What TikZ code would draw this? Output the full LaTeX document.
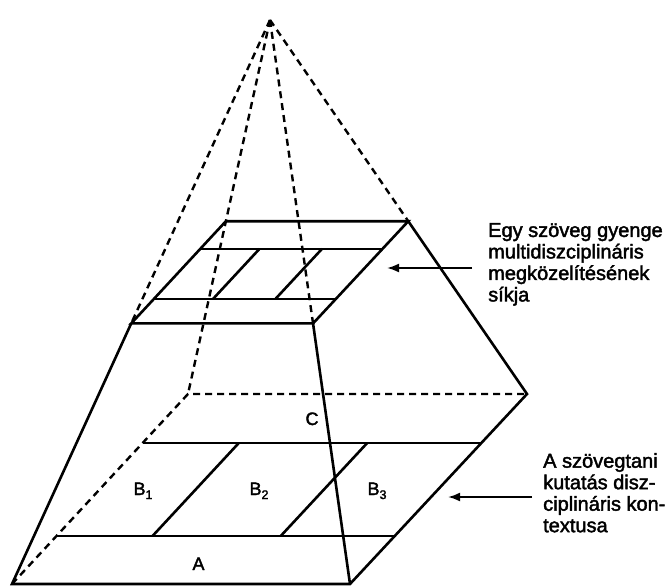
\documentclass[tikz,border=0pt]{standalone}
\usepackage{fontspec}
\setmainfont{Liberation Sans}[BoldFont=Liberation Sans, BoldFeatures={FakeBold=2}]
\usetikzlibrary{calc,arrows.meta}
\newcommand{\lowidx}[1]{\raisebox{-4pt}{\fontsize{12.5}{12.5}\selectfont #1}}

\begin{document}
\begin{tikzpicture}[x=1pt, y=-1pt,
    edge/.style={line width=2.6pt, line join=miter},
    hidden/.style={line width=2.4pt, dash pattern=on 7pt off 5pt},
    pointer/.style={line width=2pt, -{Latex[length=12pt,width=9pt]}},
    lbl/.style={font=\fontsize{18}{20}\selectfont\bfseries, inner sep=0pt, anchor=base},
    note/.style={font=\fontsize{20}{21.5}\selectfont\bfseries, align=left, inner sep=0pt, anchor=north west}]
  \useasboundingbox (0,0) rectangle (669,586);

  \coordinate (apex) at (270,20);
  \coordinate (bfl) at (12,584);
  \coordinate (bfr) at (350,584);
  \coordinate (bbr) at (527,394);
  \coordinate (bbl) at (188,394);
  \foreach \c in {fl,fr,br,bl}
    \coordinate (t\c) at ($(apex)!0.538!(b\c)$);

  % base plane strips
  \coordinate (bs1l) at ($(bfl)!0.253!(bbl)$);
  \coordinate (bs1r) at ($(bfr)!0.253!(bbr)$);
  \coordinate (bs2l) at ($(bfl)!0.742!(bbl)$);
  \coordinate (bs2r) at ($(bfr)!0.742!(bbr)$);
  % top plane strips
  \coordinate (ts1l) at ($(tfl)!0.24!(tbl)$);
  \coordinate (ts1r) at ($(tfr)!0.24!(tbr)$);
  \coordinate (ts2l) at ($(tfl)!0.73!(tbl)$);
  \coordinate (ts2r) at ($(tfr)!0.73!(tbr)$);

  \draw[hidden] (apex) -- (tfl);
  \draw[hidden] (apex) -- (tfr);
  \draw[hidden] (apex) -- (tbr);
  \draw[hidden] (apex) -- (bbl);
  \draw[hidden] (bfl) -- (bbl) -- (bbr);

  \draw[edge] (tfl) -- (tfr) -- (tbr) -- (tbl) -- cycle;
  \draw[edge] (ts1l) -- (ts1r);
  \draw[edge] (ts2l) -- (ts2r);
  \foreach \u in {0.325,0.668}
    \draw[edge] ($(ts1l)!\u!(ts1r)$) -- ($(ts2l)!\u!(ts2r)$);

  \draw[edge] (tfl) -- (bfl) -- (bfr) -- (bbr) -- (tbr);
  \draw[edge] (tfr) -- (bfr);
  \draw[edge] (bs1l) -- (bs1r);
  \draw[edge] (bs2l) -- (bs2r);
  \foreach \u in {0.284,0.663}
    \draw[edge] ($(bs1l)!\u!(bs1r)$) -- ($(bs2l)!\u!(bs2r)$);

  \node[lbl] (lc) at (312,425) {C};
  \node[lbl] (lb1) at (143,495) {B\lowidx{1}};
  \node[lbl] (lb2) at (259,495) {B\lowidx{2}};
  \node[lbl] (lb3) at (377,495) {B\lowidx{3}};
  \node[lbl] (la) at (198.5,570) {A};

  \node[note] (planelbl) at (488,223) {Egy szöveg gyenge\\multidiszciplináris\\megközelítésének\\síkja};
  \node[note] (ctxlbl) at (543,453) {A szövegtani\\kutatás disz-\\ciplináris kon-\\textusa};

  \coordinate (planetip) at (387,268);
  \coordinate (ctxtip) at (448,497);
  \draw[pointer] ($(planetip -| planelbl.west)+(-16,0)$) -- (planetip);
  \draw[pointer] ($(ctxtip -| ctxlbl.west)+(-11,0)$) -- (ctxtip);
\end{tikzpicture}
\end{document}
